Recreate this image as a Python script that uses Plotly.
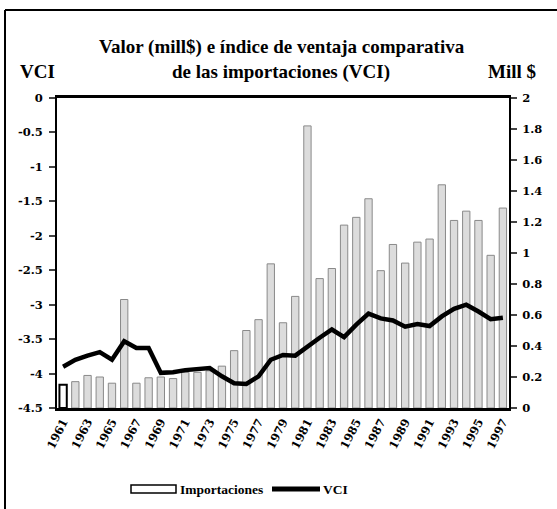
import plotly.graph_objects as go

years = list(range(1961, 1998))
importaciones = [0.15, 0.17, 0.21, 0.20, 0.16, 0.70, 0.16, 0.195, 0.20, 0.19,
                 0.23, 0.23, 0.24, 0.27, 0.37, 0.50, 0.57, 0.93, 0.55, 0.72,
                 1.82, 0.835, 0.90, 1.18, 1.23, 1.35, 0.886, 1.055, 0.935, 1.07,
                 1.09, 1.44, 1.21, 1.27, 1.21, 0.985, 1.29]
vci = [-3.90, -3.80, -3.74, -3.69, -3.80, -3.53, -3.63, -3.63, -3.99, -3.98,
       -3.95, -3.94, -3.92, -4.04, -4.14, -4.15, -4.04, -3.80, -3.73, -3.74,
       -3.60, -3.48, -3.36, -3.47, -3.29, -3.13, -3.20, -3.23, -3.32, -3.28,
       -3.31, -3.17, -3.06, -3.00, -3.10, -3.21, -3.19]

x_tick_vals = list(range(1961, 1998, 2))
x_tick_text = [str(y) for y in x_tick_vals]
vci_tick_vals = [0, -0.5, -1, -1.5, -2, -2.5, -3, -3.5, -4, -4.5]
vci_tick_text = ["0", "-0.5", "-1", "-1.5", "-2", "-2.5", "-3", "-3.5", "-4", "-4.5"]
mill_tick_vals = [0, 0.2, 0.4, 0.6, 0.8, 1, 1.2, 1.4, 1.6, 1.8, 2]
mill_tick_text = ["0", "0.2", "0.4", "0.6", "0.8", "1", "1.2", "1.4", "1.6", "1.8", "2"]
series_names = ["Importaciones", "VCI"]

SERIF = "Liberation Serif"
WIDE = "DejaVu Serif"

bar_fill = ["white"] + ["#dcdcdc"] * (len(years) - 1)
bar_line = ["black"] + ["#8a8a8a"] * (len(years) - 1)
bar_lw = [2] + [1] * (len(years) - 1)

fig = go.Figure()
fig.add_trace(go.Bar(
    x=years, y=importaciones, name=series_names[0], yaxis="y",
    marker=dict(color=bar_fill, line=dict(color=bar_line, width=bar_lw)),
    width=0.6, showlegend=False,
))
fig.add_trace(go.Scatter(
    x=years, y=vci, name=series_names[1], yaxis="y2", mode="lines",
    line=dict(color="black", width=4.5), showlegend=False,
))

W, H = 557, 509
L, R, T, B = 57, 48, 98, 101
pw, ph = W - L - R, H - T - B
def px(xp):
    return (xp - L) / pw
def py(yp):
    return (H - B - yp) / ph

tick_font = dict(family=WIDE, size=11.5, weight="bold")
title_font = dict(family=SERIF, size=19)
legend_font = dict(family=SERIF, size=13.5)

def note(text, x, y, font, xanchor="center"):
    return dict(text=text, xref="paper", yref="paper", x=px(x), y=py(y),
                xanchor=xanchor, yanchor="middle", showarrow=False, font=font)

fig.update_layout(
    width=W, height=H,
    margin=dict(l=L, r=R, t=T, b=B, autoexpand=False),
    paper_bgcolor="white", plot_bgcolor="white",
    font=dict(family=SERIF, color="black", size=12),
    showlegend=False,
    xaxis=dict(range=[1960.5, 1997.5], tickvals=x_tick_vals, ticktext=x_tick_text,
               tickangle=-63, showline=True, linecolor="black", linewidth=2.5, mirror=True,
               ticks="", showgrid=False, zeroline=False,
               tickfont=dict(family=WIDE, size=11.5, weight="bold")),
    yaxis=dict(range=[0, 2], side="right", tickvals=mill_tick_vals, ticktext=mill_tick_text,
               showline=True, linecolor="black", linewidth=2, ticks="outside", ticklen=6,
               tickwidth=1.5, showgrid=False, zeroline=False, ticklabelstandoff=3,
               tickfont=tick_font),
    yaxis2=dict(range=[-4.5, 0], side="left", overlaying="y", tickvals=vci_tick_vals,
                ticktext=vci_tick_text, showline=True, linecolor="black", linewidth=2,
                ticks="outside", ticklen=6, tickwidth=1.5, showgrid=False, zeroline=False,
                ticklabelstandoff=4, tickfont=tick_font),
    bargap=0.4,
    annotations=[
        note("<b>Valor (mill$) e índice de ventaja comparativa</b>", 282, 47, title_font),
        note("<b>de las importaciones (VCI)</b>", 281, 72, title_font),
        note("<b>VCI</b>", 37, 72, title_font),
        note("<b>Mill $</b>", 512, 72, title_font),
        note("<b>" + series_names[0] + "</b>", 178, 489, legend_font, "left"),
        note("<b>" + series_names[1] + "</b>", 321, 489, legend_font, "left"),
    ],
    shapes=[
        dict(type="line", xref="paper", yref="paper", x0=px(5), x1=px(5), y0=py(10), y1=py(H),
             line=dict(color="black", width=2)),
        dict(type="line", xref="paper", yref="paper", x0=px(5), x1=px(W), y0=py(10), y1=py(10),
             line=dict(color="black", width=2)),
        dict(type="rect", xref="paper", yref="paper", x0=px(131), x1=px(176),
             y0=py(485), y1=py(493), fillcolor="white", line=dict(color="black", width=1.5)),
        dict(type="line", xref="paper", yref="paper", x0=px(272), x1=px(320),
             y0=py(489), y1=py(489), line=dict(color="black", width=5)),
    ],
)

fig.write_html("out.html", config={"displayModeBar": False},
               post_script="document.body.style.margin='0';")
